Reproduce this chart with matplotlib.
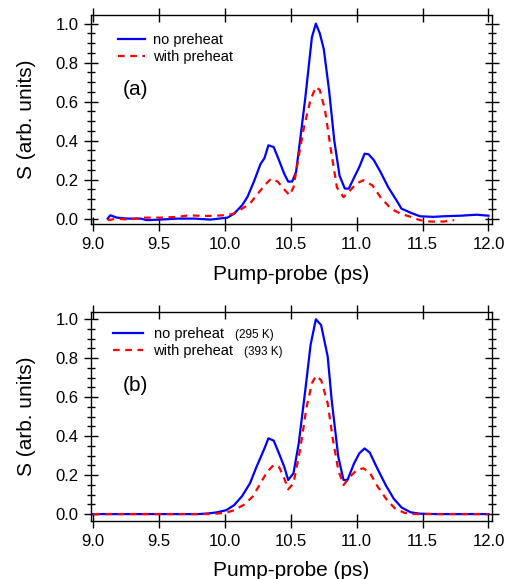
import numpy as np
import matplotlib.pyplot as plt
from matplotlib.ticker import MultipleLocator

plt.rcParams['font.family'] = ['Liberation Sans', 'DejaVu Sans']

# panel (a): measured signal
xa_no = [9.11, 9.13, 9.18, 9.26, 9.36, 9.41, 9.51, 9.64, 9.77, 9.89, 10.02, 10.07,
         10.13, 10.17, 10.22, 10.27, 10.30, 10.33, 10.37, 10.41, 10.45, 10.48, 10.51,
         10.54, 10.57, 10.61, 10.66, 10.69, 10.72, 10.75, 10.79, 10.83, 10.87, 10.91,
         10.94, 10.98, 11.02, 11.06, 11.09, 11.13, 11.18, 11.24, 11.31, 11.34, 11.41,
         11.48, 11.58, 11.66, 11.79, 11.91, 12.0]
ya_no = [0.0, 0.017, 0.005, 0.0, 0.0, -0.008, -0.005, 0.0, 0.0, -0.005, 0.005, 0.026,
         0.068, 0.11, 0.19, 0.28, 0.31, 0.376, 0.367, 0.30, 0.23, 0.19, 0.19,
         0.24, 0.40, 0.62, 0.93, 1.0, 0.95, 0.87, 0.66, 0.40, 0.22, 0.154,
         0.154, 0.21, 0.265, 0.333, 0.33, 0.30, 0.24, 0.16, 0.085, 0.051, 0.03,
         0.012, 0.009, 0.012, 0.015, 0.02, 0.015]
xa_pre = [9.11, 9.18, 9.26, 9.39, 9.51, 9.64, 9.73, 9.82, 9.92, 10.02, 10.07, 10.13,
          10.19, 10.24, 10.30, 10.35, 10.40, 10.45, 10.49, 10.52, 10.56, 10.60, 10.65,
          10.69, 10.72, 10.76, 10.80, 10.85, 10.90, 10.95, 11.00, 11.05, 11.12, 11.18,
          11.26, 11.33, 11.41, 11.48, 11.56, 11.66, 11.74]
ya_pre = [-0.008, 0.0, -0.005, 0.005, 0.005, 0.009, 0.017, 0.014, 0.014, 0.019, 0.026, 0.051,
          0.077, 0.12, 0.17, 0.205, 0.19, 0.15, 0.12, 0.16, 0.32, 0.47, 0.61,
          0.675, 0.66, 0.555, 0.37, 0.16, 0.11, 0.145, 0.18, 0.197, 0.17, 0.11,
          0.051, 0.026, 0.009, -0.008, -0.015, -0.015, -0.008]

# panel (b): simulated signal
xb_no = [9.0, 9.5, 9.8, 9.87, 9.94, 10.01, 10.07, 10.13, 10.19, 10.24, 10.30, 10.33,
         10.37, 10.41, 10.45, 10.48, 10.52, 10.56, 10.61, 10.65, 10.69, 10.73, 10.78,
         10.81, 10.86, 10.90, 10.93, 10.98, 11.02, 11.06, 11.10, 11.15, 11.22, 11.28,
         11.34, 11.41, 11.48, 11.6, 12.0]
yb_no = [0.0, 0.0, 0.0, 0.003, 0.009, 0.02, 0.046, 0.092, 0.158, 0.243, 0.337, 0.389,
         0.377, 0.312, 0.243, 0.175, 0.209, 0.363, 0.637, 0.868, 1.0, 0.97, 0.808,
         0.586, 0.295, 0.175, 0.175, 0.26, 0.312, 0.337, 0.315, 0.243, 0.149, 0.08,
         0.034, 0.009, 0.002, 0.0, 0.0]
xb_pre = [9.0, 9.5, 9.9, 10.01, 10.07, 10.14, 10.21, 10.27, 10.32, 10.37, 10.41, 10.45,
          10.48, 10.52, 10.57, 10.62, 10.66, 10.69, 10.73, 10.78, 10.82, 10.86, 10.90,
          10.95, 11.00, 11.05, 11.10, 11.16, 11.23, 11.29, 11.36, 11.43, 11.6, 12.0]
yb_pre = [0.0, 0.0, 0.0, 0.007, 0.02, 0.046, 0.089, 0.158, 0.217, 0.252, 0.243, 0.183,
          0.127, 0.158, 0.329, 0.551, 0.671, 0.709, 0.688, 0.568, 0.38, 0.226, 0.149,
          0.192, 0.226, 0.235, 0.212, 0.14, 0.072, 0.029, 0.007, 0.0, 0.0, 0.0]

temps = ['(295 K)', '(393 K)']

blue = '#0000ff'
red = '#ff0000'

fig = plt.figure(figsize=(5.1, 5.79), dpi=100)
ax_a = fig.add_axes([0.1775, 0.613, 0.787, 0.361])
ax_b = fig.add_axes([0.1775, 0.1007, 0.787, 0.361])

panels = [
    (ax_a, xa_no, ya_no, xa_pre, ya_pre, '(a)', (-0.028, 1.044)),
    (ax_b, xb_no, yb_no, xb_pre, yb_pre, '(b)', (-0.034, 1.039)),
]

for ax, x1, y1, x2, y2, tag, ylim in panels:
    ax.plot(x1, y1, color=blue, lw=1.6, label='no preheat')
    ax.plot(x2, y2, color=red, lw=1.6, ls=(0, (3, 2.5)), label='with preheat')
    ax.set_xlim(8.98, 12.026)
    ax.set_ylim(*ylim)
    ax.xaxis.set_major_locator(MultipleLocator(0.5))
    ax.yaxis.set_major_locator(MultipleLocator(0.2))
    ax.yaxis.set_minor_locator(MultipleLocator(0.05))
    ax.xaxis.set_major_formatter(plt.FormatStrFormatter('%.1f'))
    ax.yaxis.set_major_formatter(plt.FormatStrFormatter('%.1f'))
    ax.tick_params(which='major', direction='inout', length=10, width=1,
                   top=True, right=True, labelsize=12, pad=3.5)
    ax.tick_params(which='minor', direction='inout', length=6, width=1,
                   top=True, right=True)
    ax.tick_params(axis='x', pad=4.5)
    for s in ax.spines.values():
        s.set_linewidth(1)
    ax.set_xlabel('Pump-probe (ps)', fontsize=15, labelpad=9)
    ax.set_ylabel('S (arb. units)', fontsize=15, labelpad=14)
    ax.text(9.226, 0.66, tag, fontsize=15, va='center', ha='left')

ax_a.legend(loc='upper left', bbox_to_anchor=(0.069, 0.915), frameon=False,
            borderpad=0, borderaxespad=0, fontsize=10.5, handlelength=1.85,
            handletextpad=0.55, labelspacing=0.2)
ax_b.legend(loc='upper left', bbox_to_anchor=(0.057, 0.925), frameon=False,
            borderpad=0, borderaxespad=0, fontsize=10.5, handlelength=2.0,
            handletextpad=0.75, labelspacing=0.2)
ax_b.text(0.36, 0.89, temps[0], transform=ax_b.transAxes, fontsize=8.5, va='center')
ax_b.text(0.382, 0.808, temps[1], transform=ax_b.transAxes, fontsize=8.5, va='center')

fig.savefig('out.png', dpi=100)
